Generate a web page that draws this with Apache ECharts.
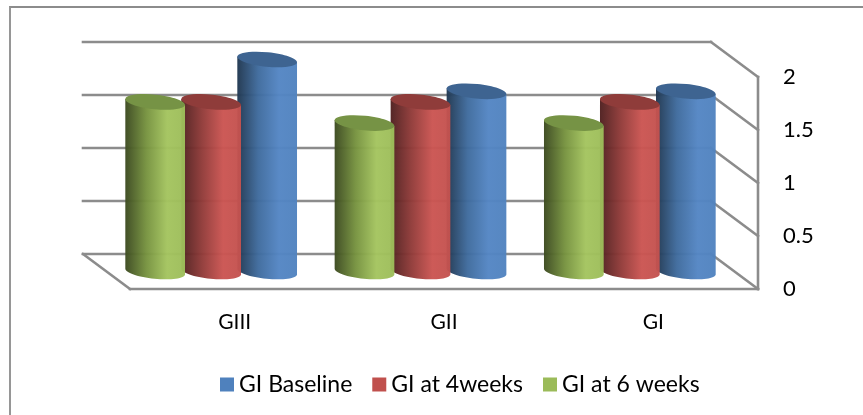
<!DOCTYPE html>
<html>
<head>
<meta charset="utf-8">
<style>
  html, body { margin: 0; padding: 0; background: #fff; overflow: hidden; }
  #chart { position: absolute; left: 0; top: 0; width: 863px; height: 415px; }
  #frame { position: absolute; left: 9px; top: 6px; width: 860px; height: 420px; box-sizing: border-box;
           border-top: 2px solid #8c8c8c; border-left: 2px solid #969696; }
</style>
<script src="https://cdn.jsdelivr.net/npm/echarts@6/dist/echarts.min.js"></script>
</head>
<body>
<div id="frame"></div>
<div id="chart"></div>
<script>
const categories = ["GIII", "GII", "GI"];
const baseline = [2.0, 1.7, 1.7];
const weeks4 = [1.6, 1.6, 1.6];
const weeks6 = [1.6, 1.4, 1.4];
const yTicks = [0, 0.5, 1, 1.5, 2];

const chart = echarts.init(document.getElementById("chart"));

// the 3D box: back wall sits this far up and left of the front plane
const DEPTH_X = -47, DEPTH_Y = -35;
const WALL = "#8c8c8c";
const FONT = "Lato";

function wallItem(params, api) {
  const cs = params.coordSys;
  const left = cs.x, right = cs.x + cs.width;
  const lines = [];
  const addLine = (x1, y1, x2, y2) => lines.push({
    type: "line",
    shape: { x1, y1, x2, y2 },
    style: { stroke: WALL, lineWidth: 2.6, lineCap: "square" },
  });
  yTicks.forEach((t) => {
    const y = api.coord([0, t])[1];
    // back wall
    addLine(left + DEPTH_X, y + DEPTH_Y, right + DEPTH_X, y + DEPTH_Y);
    // right wall
    addLine(right + DEPTH_X, y + DEPTH_Y, right, y);
  });
  const y0 = api.coord([0, 0])[1];
  const y2 = api.coord([0, 2])[1];
  addLine(left + DEPTH_X, y0 + DEPTH_Y, left, y0);
  addLine(left, y0, right, y0);
  addLine(right, y0, right, y2);
  return { type: "group", children: lines };
}

function cylinderItem(offset, stops, topColor) {
  return function (params, api) {
    const p = api.coord([api.value(0), api.value(1)]);
    const base = api.coord([api.value(0), 0]);
    const cx = p[0] + offset + DEPTH_X / 2;
    const yTop = p[1] + DEPTH_Y / 2;
    const yBase = base[1] + DEPTH_Y / 2;
    const rx = 30, ry = 7.3, tilt = 0.1;
    // body outline: up the left side, across the top, round the tilted bottom edge
    const ex = rx * Math.cos(tilt), ey = rx * Math.sin(tilt);
    const points = [[cx - ex, yTop - ey], [cx + ex, yTop + ey]];
    for (let i = 0; i <= 32; i++) {
      const a = (Math.PI * i) / 32;
      const ux = rx * Math.cos(a), uy = ry * Math.sin(a);
      points.push([
        cx + ux * Math.cos(tilt) - uy * Math.sin(tilt),
        yBase + ux * Math.sin(tilt) + uy * Math.cos(tilt),
      ]);
    }
    return {
      type: "group",
      children: [
        {
          type: "polygon",
          shape: { points },
          style: { fill: new echarts.graphic.LinearGradient(0, 0, 1, 0, stops), opacity: 0.97 },
        },
        {
          type: "ellipse",
          shape: { cx: 0, cy: 0, rx, ry },
          x: cx, y: yTop, rotation: -tilt,
          style: { fill: topColor },
        },
      ],
    };
  };
}

function cylinderSeries(name, values, color, offset, stops, topColor) {
  return {
    name,
    type: "custom",
    data: values.map((v, i) => [i, v]),
    encode: { x: 0, y: 1 },
    itemStyle: { color },
    renderItem: cylinderItem(offset, stops, topColor),
    z: 3,
  };
}

chart.setOption({
  animation: false,
  legend: {
    bottom: 14,
    left: 215,
    itemWidth: 14,
    itemHeight: 14,
    itemGap: 20,
    icon: "rect",
    textStyle: { fontFamily: FONT, fontSize: 23, color: "#000" },
    data: ["GI Baseline", "GI at 4weeks", "GI at 6 weeks"],
  },
  grid: { left: 130, right: 105, top: 77, bottom: 126 },
  xAxis: {
    type: "category",
    data: categories,
    axisLine: { show: false },
    axisTick: { show: false },
    axisLabel: { fontFamily: FONT, fontSize: 21, color: "#000", margin: 23 },
  },
  yAxis: {
    type: "value",
    position: "right",
    min: 0,
    max: 2,
    interval: 0.5,
    axisLine: { show: false },
    axisTick: { show: false },
    splitLine: { show: false },
    axisLabel: { fontFamily: FONT, fontSize: 22, color: "#000", margin: 25, padding: [3, 0, 0, 0] },
  },
  series: [
    {
      type: "custom",
      silent: true,
      data: [[0, 0]],
      renderItem: wallItem,
      z: 1,
    },
    cylinderSeries("GI Baseline", baseline, "#4f81bd", 56, [
      { offset: 0, color: "#203750" },
      { offset: 0.35, color: "#3f6b9d" },
      { offset: 0.7, color: "#5486c4" },
      { offset: 1, color: "#5183bf" },
    ], "#3e6491"),
    cylinderSeries("GI at 4weeks", weeks4, "#c0504d", 0, [
      { offset: 0, color: "#4f2020" },
      { offset: 0.35, color: "#913b39" },
      { offset: 0.7, color: "#cb5552" },
      { offset: 1, color: "#c3524f" },
    ], "#8f3c3a"),
    cylinderSeries("GI at 6 weeks", weeks6, "#9bbb59", -56, [
      { offset: 0, color: "#3c4a20" },
      { offset: 0.35, color: "#76923f" },
      { offset: 0.7, color: "#a4c45f" },
      { offset: 1, color: "#9dbd5a" },
    ], "#769345"),
  ],
});
</script>
</body>
</html>
